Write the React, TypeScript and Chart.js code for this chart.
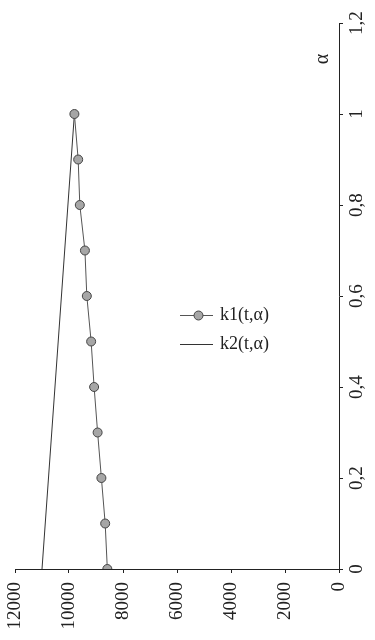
import React, { useEffect, useRef } from "react";
import { Chart, registerables } from "chart.js";

Chart.register(...registerables);

const alphaValues = [0, 0.1, 0.2, 0.3, 0.4, 0.5, 0.6, 0.7, 0.8, 0.9, 1];
const k1Values = [8580, 8660, 8800, 8940, 9070, 9180, 9340, 9410, 9600, 9660, 9800];
const k2Alpha = [0, 1];
const k2Values = [11000, 9800];
const alphaTickValues = [0, 0.2, 0.4, 0.6, 0.8, 1, 1.2];
const alphaTickLabels = ["0", "0,2", "0,4", "0,6", "0,8", "1", "1,2"];
const seriesNames = ["k1(t,α)", "k2(t,α)"];
const axisTitle = "α";

const FONT = "'Liberation Serif', 'DejaVu Serif', serif";
const INK = "#222";

const overlayPlugin = {
  id: "overlay",
  afterDraw(chart: any) {
    const ctx = chart.ctx;
    const ys = chart.scales.y;
    ctx.save();
    ctx.fillStyle = INK;
    ctx.font = `19px ${FONT}`;
    ctx.textAlign = "center";
    ctx.textBaseline = "middle";
    alphaTickValues.forEach((v, i) => {
      const py = ys.getPixelForValue(v);
      ctx.save();
      ctx.translate(ys.left + 18, py);
      ctx.rotate(-Math.PI / 2);
      ctx.fillText(alphaTickLabels[i], 0, 0);
      ctx.restore();
    });
    // axis title
    ctx.save();
    ctx.font = `20px ${FONT}`;
    ctx.translate(ys.left - 16, chart.chartArea.top + 36);
    ctx.rotate(-Math.PI / 2);
    ctx.fillText(axisTitle, 0, 0);
    ctx.restore();
    // legend
    const lx1 = 180, lx2 = 213, tx = 220;
    const rows = [315, 344];
    ctx.textAlign = "left";
    ctx.font = `18px ${FONT}`;
    rows.forEach((ry, i) => {
      ctx.strokeStyle = i === 0 ? "#555" : "#333";
      ctx.lineWidth = 1;
      ctx.beginPath();
      ctx.moveTo(lx1, ry + 0.5);
      ctx.lineTo(lx2, ry + 0.5);
      ctx.stroke();
      if (i === 0) {
        ctx.beginPath();
        ctx.arc((lx1 + lx2) / 2 + 2, ry + 0.5, 4.5, 0, Math.PI * 2);
        ctx.fillStyle = "#a6a6a6";
        ctx.fill();
        ctx.strokeStyle = "#444";
        ctx.stroke();
      }
      ctx.fillStyle = INK;
      ctx.fillText(seriesNames[i], tx, ry);
    });
    ctx.restore();
  },
};

export default function App() {
  const ref = useRef<HTMLCanvasElement>(null);
  useEffect(() => {
    if (!ref.current) return;
    const chart = new Chart(ref.current, {
      type: "line",
      data: {
        datasets: [
          {
            label: seriesNames[0],
            data: alphaValues.map((a, i) => ({ x: k1Values[i], y: a })),
            borderColor: "#555",
            borderWidth: 1,
            pointRadius: 4.5,
            pointBackgroundColor: "#a6a6a6",
            pointBorderColor: "#444",
            pointBorderWidth: 1,
            tension: 0,
          },
          {
            label: seriesNames[1],
            data: k2Alpha.map((a, i) => ({ x: k2Values[i], y: a })),
            borderColor: "#333",
            borderWidth: 1,
            pointRadius: 0,
            tension: 0,
          },
        ],
      },
      options: {
        animation: false,
        responsive: true,
        maintainAspectRatio: false,
        layout: { padding: { left: 15, top: 23, right: 0, bottom: 0 } },
        plugins: { legend: { display: false }, tooltip: { enabled: false } },
        scales: {
          x: {
            type: "linear",
            reverse: true,
            min: 0,
            max: 12000,
            afterFit(scale: any) {
              scale.height = 71;
            },
            ticks: {
              stepSize: 2000,
              minRotation: 90,
              maxRotation: 90,
              padding: 9,
              color: INK,
              font: { family: FONT, size: 19 },
              callback: (v: any) => String(v),
            },
            grid: { drawOnChartArea: false, tickLength: 4, color: INK },
            border: { color: INK, width: 1 },
          },
          y: {
            type: "linear",
            position: "right",
            min: 0,
            max: 1.2,
            afterFit(scale: any) {
              scale.width = 36;
            },
            ticks: { stepSize: 0.2, display: false },
            grid: { drawOnChartArea: false, tickLength: 4, color: INK },
            border: { color: INK, width: 1 },
          },
        },
      },
      plugins: [overlayPlugin],
    });
    return () => chart.destroy();
  }, []);
  return (
    <div style={{ position: "fixed", left: 0, top: 0, width: 375, height: 640, background: "#fff" }}>
      <canvas ref={ref} />
    </div>
  );
}
